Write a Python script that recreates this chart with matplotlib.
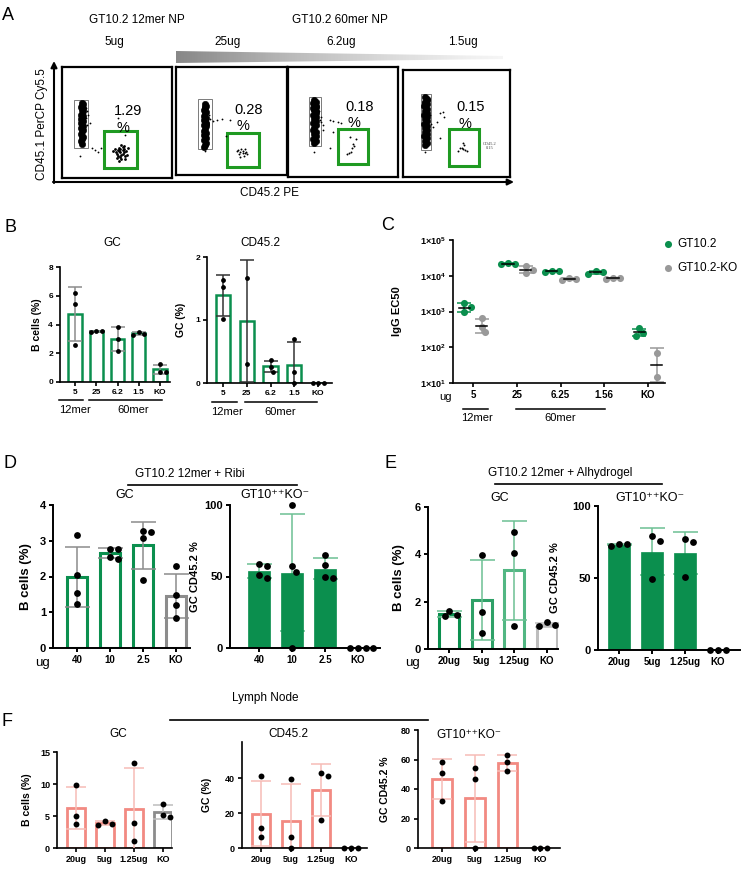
import numpy as np
import matplotlib.pyplot as plt
from matplotlib.patches import Rectangle, Polygon

W, H = 746, 873
plt.rcParams['font.family'] = ['Liberation Sans', 'DejaVu Sans']
plt.rcParams['mathtext.fontset'] = 'custom'
plt.rcParams['mathtext.rm'] = 'Liberation Sans'
plt.rcParams['mathtext.bf'] = 'Liberation Sans:bold'

GREEN = '#0b8f4e'
LGREEN = '#6cc093'
GRAY = '#8c8c8c'
LGRAY = '#bdbdbd'
SALMON = '#f28a82'
LSALMON = '#f6bcb6'
FLOWGREEN = '#1f9a22'

# ---------------- data ----------------
# A: flow plots (gate-local units 0-100)
flow_doses = ['5ug', '25ug', '6.2ug', '1.5ug']
flow_pct = ['1.29', '0.28', '0.18', '0.15']
host_x = [[18, 19, 18, 17, 19, 18, 19, 18, 17, 19, 18, 17, 19, 17, 18, 19, 17, 19, 18, 17, 18, 19, 18, 17, 18],
          [26, 27, 26, 25, 27, 26, 25, 27, 25, 26, 27, 25, 27, 26, 25, 27, 25, 26, 27, 25, 27, 26, 25, 26, 27],
          [24, 25, 24, 25, 23, 24, 25, 25, 23, 25, 24, 25, 23, 25, 24, 23, 25, 24, 25, 23, 25, 24, 23, 25, 24],
          [21, 22, 21, 22, 20, 22, 21, 22, 20, 22, 21, 22, 20, 22, 21, 22, 21, 22, 20, 22, 21, 22, 21, 22, 21]]
host_y = [[68, 67, 65, 64, 63, 61, 60, 58, 57, 56, 54, 53, 51, 50, 48, 47, 45, 43, 42, 40, 38, 37, 35, 33, 31],
          [66, 64, 62, 60, 58, 57, 55, 53, 51, 50, 48, 46, 45, 43, 41, 39, 37, 36, 34, 32, 30, 28, 26, 63, 47],
          [70, 68, 66, 64, 63, 61, 60, 58, 56, 55, 53, 51, 49, 47, 45, 43, 41, 39, 37, 35, 33, 31, 67, 65, 62],
          [75, 72, 70, 68, 66, 64, 62, 60, 58, 56, 54, 52, 50, 48, 46, 44, 42, 40, 38, 36, 34, 32, 30, 73, 69]]
other_x = [[22, 23, 24, 22, 25, 23, 16, 30, 33, 35, 51, 57, 27],
           [30, 31, 33, 37, 41, 49, 45, 26],
           [28, 29, 30, 38, 41, 45, 48, 32, 32, 41, 38, 24, 30],
           [25, 26, 24, 35, 37, 38, 32, 35, 21, 28]]
other_y = [[63, 60, 57, 54, 50, 48, 20, 25, 23, 27, 54, 39, 27],
           [56, 52, 50, 51, 52, 51, 36, 22],
           [60, 52, 55, 52, 51, 50, 49, 47, 43, 41, 26, 23, 50],
           [58, 50, 44, 60, 61, 56, 51, 36, 23, 47]]
gt_x = [[50, 52, 54, 56, 53, 55, 51, 57, 49, 53, 55, 52, 54, 56, 58, 50, 53, 55, 51, 54, 48, 57, 59, 52, 56, 46, 60],
        [56, 58, 60, 62, 57, 59, 61, 63, 58, 60, 55, 62, 64],
        [56, 62, 58, 60, 55, 57, 54, 59],
        [55, 57, 53, 56, 58, 60, 51, 56]]
gt_y = [[22, 24, 21, 23, 26, 25, 20, 20, 23, 19, 28, 27, 17, 26, 24, 18, 23, 22, 25, 30, 26, 17, 21, 15, 29, 24, 27],
        [23, 21, 22, 20, 19, 24, 18, 21, 17, 20, 22, 24, 19],
        [36, 35, 26, 28, 22, 23, 21, 30],
        [27, 30, 27, 26, 25, 24, 24, 32]]

# B
b_cats = ['5', '25', '6.2', '1.5', 'KO']
b_gc = [[6.2, 5.4, 2.6], [3.5, 3.55, 3.52], [3.8, 3.0, 2.15], [3.3, 3.5, 3.35], [0.72, 1.25, 0.72]]
b_cd = [[1.63, 1.52, 1.02], [1.67, 0.3], [0.36, 0.18, 0.25], [0.7, 0.18, 0.0], [0.0, 0.0, 0.0]]

# C
c_cats = ['5', '25', '6.25', '1.56', 'KO']
c_gt = [[1750, 1300, 950], [21000, 23000, 22000], [13000, 14000, 13500], [11500, 13500, 12500], [340, 250, 210]]
c_ko = [[650, 370, 270], [18500, 14500, 12000], [7800, 8700, 8200], [8000, 8800, 8500], [70, 15]]

# D
d_cats = ['40', '10', '2.5', 'KO']
d_gc = [[3.15, 2.03, 1.53, 1.23], [2.78, 2.78, 2.5, 2.55], [3.27, 3.25, 3.08, 1.9], [2.28, 1.48, 1.2, 0.85]]
d_gt = [[57.5, 59, 51, 49], [100, 57, 53, 0], [65, 58, 50, 49], [0, 0, 0, 0]]

# E
e_cats = ['20ug', '5ug', '1.25ug', 'KO']
e_gc = [[1.38, 1.62, 1.42], [3.97, 1.57, 0.67], [4.95, 4.05, 0.98], [1.12, 0.97, 1.0]]
e_gt = [[72.5, 73.5, 73.5], [79, 76, 49.5], [77, 75, 50.5], [0, 0, 0]]

# F
f_cats = ['20ug', '5ug', '1.25ug', 'KO']
f_gc = [[9.9, 5.0, 3.8], [4.2, 3.6, 3.75], [13.3, 3.9, 1.1], [6.9, 4.8, 5.2]]
f_cd = [[41.3, 11.4, 6.5], [39.6, 6.2, 0.0], [43, 41.2, 16], [0, 0, 0]]
f_gt = [[58, 51, 32], [54, 47, 0], [63, 58, 52], [0, 0, 0]]

GT_TITLE = 'GT10⁺⁺KO⁻'

fig = plt.figure(figsize=(W / 100, H / 100), dpi=100)


def px_axes(l, t, r, b):
    ax = fig.add_axes([l / W, 1 - b / H, (r - l) / W, (b - t) / H])
    ax.set_facecolor('none')
    return ax


def bar_axes(l, t, r, b, c0, step):
    ax = px_axes(l, t, r, b)
    ax.set_xlim((l - c0) / step, (r - c0) / step)
    return ax


# spread dots that would overlap, a bit like Prism does
def swarm(vals, ppu_y, diam):
    order = sorted(range(len(vals)), key=lambda i: -vals[i])
    placed = []
    offs = np.zeros(len(vals))
    cands = [0]
    for k in range(1, 8):
        cands += [k * diam * 0.55, -k * diam * 0.55]
    for i in order:
        y = vals[i] * ppu_y
        for o in cands:
            if all(np.hypot(o - po, y - py) >= diam * 0.9 for po, py in placed):
                break
        placed.append((o, y))
        offs[i] = o
    return offs


def style(ax, ylim, yticks, fs, lw=1.2):
    for s in ['top', 'right']:
        ax.spines[s].set_visible(False)
    for s in ['left', 'bottom']:
        ax.spines[s].set_linewidth(lw)
    ax.set_ylim(*ylim)
    ax.set_yticks(yticks)
    ax.tick_params(width=lw, length=3, labelsize=fs, pad=2)
    for lab in ax.get_yticklabels():
        lab.set_fontweight('bold')


def draw_bars(ax, pts, cats, edge, ecol, fill, width, lw, diam, ms, cap, xfs):
    y0, y1 = ax.get_ylim()
    x0, x1 = ax.get_xlim()
    bb = ax.get_position()
    ppu_y = bb.height * H / (y1 - y0)
    ppu_x = bb.width * W / (x1 - x0)
    for i, p in enumerate(pts):
        m = np.mean(p)
        sd = np.std(p, ddof=1)
        ax.bar(i, m, width, facecolor=fill[i], edgecolor=edge[i], linewidth=lw, zorder=2)
        if sd > 0:
            ax.errorbar(i, m, yerr=sd, fmt='none', ecolor=ecol[i], elinewidth=1.1,
                        capsize=cap, capthick=1.1, zorder=3 if fill[i] == 'white' else 1)
        offs = swarm(p, ppu_y, diam) / ppu_x
        ax.scatter(i + offs, p, s=ms, c='k', zorder=5, clip_on=False, linewidths=0)
    ax.set_xticks(range(len(cats)))
    ax.set_xticklabels(cats, fontsize=xfs, fontweight='bold')


def ylab(ax, text, xpx, fs):
    bb = ax.get_position()
    ax.set_ylabel(text, fontsize=fs, fontweight='bold')
    ax.yaxis.set_label_coords((xpx / W - bb.x0) / bb.width, 0.5)


# ---------------- overlay for annotations ----------------
ov = fig.add_axes([0, 0, 1, 1], zorder=10)
ov.set_facecolor('none')
ov.axis('off')

# ---------------- A ----------------
flow_boxes = [(62, 67, 172, 178), (176, 67, 287, 175), (288, 67, 398, 177), (403, 70, 510, 177)]
host_gate = [(11, 24, 27, 70), (20, 32, 24, 70), (19, 30, 28, 73), (17, 26, 25, 78)]
gt_gate = [(38, 68, 9, 42), (46, 75, 7, 39), (45, 73, 12, 44), (43, 71, 10, 45)]
pct_pos = [(60, 60), (65, 60), (65, 64), (63, 65)]
for k in range(4):
    ax = px_axes(*flow_boxes[k])
    ax.set_xlim(0, 100)
    ax.set_ylim(0, 100)
    ax.set_xticks([])
    ax.set_yticks([])
    for s in ax.spines.values():
        s.set_linewidth(1.6)
    gx0, gx1, gy0, gy1 = host_gate[k]
    ax.add_patch(Rectangle((gx0, gy0), gx1 - gx0, gy1 - gy0, fill=False, ec='#7a7a7a', lw=0.7))
    gx0, gx1, gy0, gy1 = gt_gate[k]
    ax.add_patch(Rectangle((gx0, gy0), gx1 - gx0, gy1 - gy0, fill=False, ec=FLOWGREEN, lw=2.2))
    ax.plot(host_x[k], host_y[k], 'o', ms=4.6, color='k', mec='k', mew=0.4)
    ax.plot(other_x[k], other_y[k], 'o', ms=1.3, color='k', mec='none')
    ax.plot(gt_x[k], gt_y[k], 'o', ms=2.0 if k == 0 else 1.4, color='k', mec='none')
    px, py = pct_pos[k]
    ax.text(px, py, flow_pct[k], fontsize=10.5, ha='center', va='center')
    ax.text(px - 5, py - 15, '%', fontsize=10.5, ha='center', va='center')
    if k == 3:
        ax.text(81, 29, 'CD45.2\n0.15', fontsize=3.2, ha='center', va='center',
                family='Liberation Serif', color='#444444')

ov.text(8, 15, 'A', fontsize=13, ha='center', va='center')
ov.text(137, 20, 'GT10.2 12mer NP', fontsize=8.5, ha='center', va='center')
ov.text(340, 20, 'GT10.2 60mer NP', fontsize=8.5, ha='center', va='center')
for x, t in zip([114, 228, 341, 463], flow_doses):
    ov.text(x, 42, t, fontsize=8.5, ha='center', va='center')
grad = np.linspace(0.55, 0.08, 256).reshape(1, -1)
im = ov.imshow(grad, extent=(176, 503, 63, 51), cmap='Greys', vmin=0, vmax=1, aspect='auto')
wedge = Polygon([(176, 51), (503, 56), (503, 59), (176, 63)], closed=True, transform=ov.transData,
                fc='none', ec='none')
ov.add_patch(wedge)
im.set_clip_path(wedge)
ov.annotate('', xy=(54, 61), xytext=(54, 183),
            arrowprops=dict(arrowstyle='-|>', lw=1.5, color='k', mutation_scale=9, shrinkA=0, shrinkB=0))
ov.annotate('', xy=(514, 182), xytext=(53, 182),
            arrowprops=dict(arrowstyle='-|>', lw=1.5, color='k', mutation_scale=9, shrinkA=0, shrinkB=0))
ov.text(42, 124, 'CD45.1 PerCP Cy5.5', fontsize=8.5, rotation=90, ha='center', va='center')
ov.text(270, 193, 'CD45.2 PE', fontsize=8.5, ha='center', va='center')

# ---------------- B ----------------
ov.text(10, 227, 'B', fontsize=13, ha='center', va='center')
ax = bar_axes(60, 267, 170, 382, 75, 21.25)
style(ax, (0, 8), [0, 2, 4, 6, 8], 6)
draw_bars(ax, b_gc, b_cats, [GREEN] * 5, [GRAY] * 5, ['white'] * 5, 0.62, 1.8, 5, 12, 5, 6)
ylab(ax, 'B cells (%)', 42, 7.5)
ov.text(112, 243, 'GC', fontsize=8.5, ha='center', va='center')
ov.plot([59, 83], [400, 400], color='k', lw=1.1)
ov.plot([89, 162], [400, 400], color='k', lw=1.1)
ov.text(75, 410, '12mer', fontsize=8, ha='center', va='center')
ov.text(133, 410, '60mer', fontsize=8, ha='center', va='center')

ax = bar_axes(207, 257, 332, 383, 223, 23.75)
style(ax, (0, 2), [0, 1, 2], 6)
draw_bars(ax, b_cd, b_cats, [GREEN] * 5, ['#333333'] * 5, ['white'] * 5, 0.6, 1.8, 5, 12, 5, 6)
ylab(ax, 'GC (%)', 186, 7.5)
ov.text(260, 243, 'CD45.2', fontsize=8.5, ha='center', va='center')
ov.plot([212, 237], [402, 402], color='k', lw=1.1)
ov.plot([245, 317], [402, 402], color='k', lw=1.1)
ov.text(227, 412, '12mer', fontsize=8, ha='center', va='center')
ov.text(280, 412, '60mer', fontsize=8, ha='center', va='center')

# ---------------- C ----------------
ov.text(388, 225, 'C', fontsize=13, ha='center', va='center')
ax = bar_axes(453, 240, 665, 383, 473, 43.75)
ax.set_yscale('log')
style(ax, (10, 1e5), [10, 1e2, 1e3, 1e4, 1e5], 6.5)
ax.set_yticklabels(['1×10$^{\\mathbf{%d}}$' % k for k in range(1, 6)], fontweight='bold')
ax.minorticks_off()
bb = ax.get_position()
ppu_y = bb.height * H / 4
ppu_x = 43.75
for grp, col, dx in [(c_gt, GREEN, -0.2), (c_ko, '#999999', 0.2)]:
    for i, p in enumerate(grp):
        lg = np.log10(p)
        gm = 10 ** lg.mean()
        gsd = 10 ** lg.std(ddof=1)
        ax.errorbar(i + dx, gm, yerr=[[gm - gm / gsd], [gm * gsd - gm]], fmt='none',
                    ecolor=col, elinewidth=1.1, capsize=5, capthick=1.1, zorder=2)
        offs = swarm(list(lg), ppu_y, 6.5) / ppu_x
        ax.scatter(i + dx + offs, p, s=26, c=col, zorder=3, linewidths=0, clip_on=False)
        ax.plot([i + dx - 0.13, i + dx + 0.13], [gm, gm], color='k', lw=1.1, zorder=4)
ax.set_xticks(range(5))
ax.set_xticklabels(c_cats, fontsize=7, fontweight='bold')
ylab(ax, 'IgG EC50', 402, 8)
ov.text(445, 397, 'ug', fontsize=8, ha='center', va='center')
ov.plot([463, 488], [409, 409], color='k', lw=1.1)
ov.plot([516, 605], [409, 409], color='k', lw=1.1)
ov.text(477, 418, '12mer', fontsize=8, ha='center', va='center')
ov.text(560, 418, '60mer', fontsize=8, ha='center', va='center')
ov.scatter([668], [244], s=26, c=GREEN, linewidths=0)
ov.scatter([668], [268], s=26, c='#999999', linewidths=0)
ov.text(677, 244, 'GT10.2', fontsize=8.5, va='center')
ov.text(677, 268, 'GT10.2-KO', fontsize=8.5, va='center')

# ---------------- D ----------------
ov.text(10, 464, 'D', fontsize=13, ha='center', va='center')
ov.text(190, 474, 'GT10.2 12mer + Ribi', fontsize=8.5, ha='center', va='center')
ov.plot([128, 297], [485, 485], color='k', lw=1.2)
ax = bar_axes(53, 505, 190, 648, 77, 33)
style(ax, (0, 4), [0, 1, 2, 3, 4], 8, lw=1.4)
draw_bars(ax, d_gc, d_cats, [GREEN] * 3 + [GRAY], [GRAY] * 4, ['white'] * 4, 0.6, 2.2, 7, 24, 9, 7)
ylab(ax, 'B cells (%)', 32, 9.5)
ov.text(125, 495, 'GC', fontsize=9, ha='center', va='center')
ov.text(43, 663, 'ug', fontsize=9.5, ha='center', va='center')

ax = bar_axes(230, 505, 380, 648, 259, 33)
style(ax, (0, 100), [0, 50, 100], 8, lw=1.4)
draw_bars(ax, d_gt, d_cats, [GREEN] * 4, [LGREEN] * 4, [GREEN] * 4, 0.66, 0.5, 7, 24, 9, 7)
ylab(ax, 'GC CD45.2 %', 200, 8)
ov.text(275, 495, GT_TITLE, fontsize=9, ha='center', va='center')

# ---------------- E ----------------
ov.text(390, 464, 'E', fontsize=13, ha='center', va='center')
ov.text(560, 473, 'GT10.2 12mer + Alhydrogel', fontsize=8.5, ha='center', va='center')
ov.plot([495, 662], [484, 484], color='k', lw=1.2)
ax = bar_axes(428, 507, 558, 649, 449, 32.7)
style(ax, (0, 6), [0, 2, 4, 6], 8, lw=1.4)
draw_bars(ax, e_gc, e_cats, [GREEN, '#2ea067', '#52b783', LGRAY], [LGREEN] * 3 + [LGRAY],
          ['white'] * 4, 0.61, 2.2, 7, 24, 9, 7)
ylab(ax, 'B cells (%)', 405, 9.5)
ov.text(500, 498, 'GC', fontsize=9, ha='center', va='center')
ov.text(413, 663, 'ug', fontsize=9.5, ha='center', va='center')

ax = bar_axes(598, 506, 740, 650, 619, 33)
style(ax, (0, 100), [0, 50, 100], 8, lw=1.4)
draw_bars(ax, e_gt, e_cats, [GREEN] * 4, [LGREEN] * 4, [GREEN] * 4, 0.66, 0.5, 7, 24, 9, 7)
ylab(ax, 'GC CD45.2 %', 560, 8)
ov.text(650, 498, GT_TITLE, fontsize=9, ha='center', va='center')

# ---------------- F ----------------
ov.text(7, 722, 'F', fontsize=13, ha='center', va='center')
ov.text(265, 698, 'Lymph Node', fontsize=8.5, ha='center', va='center')
ov.plot([170, 428], [720, 720], color='k', lw=1.2)

ax = bar_axes(57, 752, 172, 848, 76, 29)
style(ax, (0, 15), [0, 5, 10, 15], 6.5)
draw_bars(ax, f_gc, f_cats, [SALMON] * 3 + [GRAY], [LSALMON] * 3 + [LGRAY], ['white'] * 4,
          0.6, 2, 6, 18, 7, 6.5)
ylab(ax, 'B cells (%)', 32, 7.5)
ov.text(118, 734, 'GC', fontsize=8.5, ha='center', va='center')

ax = bar_axes(242, 742, 367, 848, 261, 30)
style(ax, (0, 61), [0, 20, 40], 6.5)
draw_bars(ax, f_cd, f_cats, [SALMON] * 4, [LSALMON] * 4, ['white'] * 4, 0.6, 2, 6, 18, 7, 6.5)
ylab(ax, 'GC (%)', 212, 7.5)
ov.text(288, 734, 'CD45.2', fontsize=8.5, ha='center', va='center')

ax = bar_axes(418, 730, 560, 848, 442, 32.7)
style(ax, (0, 80), [0, 20, 40, 60, 80], 6.5)
draw_bars(ax, f_gt, f_cats, [SALMON] * 4, [LSALMON] * 4, ['white'] * 4, 0.6, 2, 6, 18, 7, 6.5)
ylab(ax, 'GC CD45.2 %', 390, 7.5)
ov.text(469, 735, GT_TITLE, fontsize=8.5, ha='center', va='center')

ov.set_xlim(0, W)
ov.set_ylim(H, 0)
fig.savefig('out.png', dpi=100)
